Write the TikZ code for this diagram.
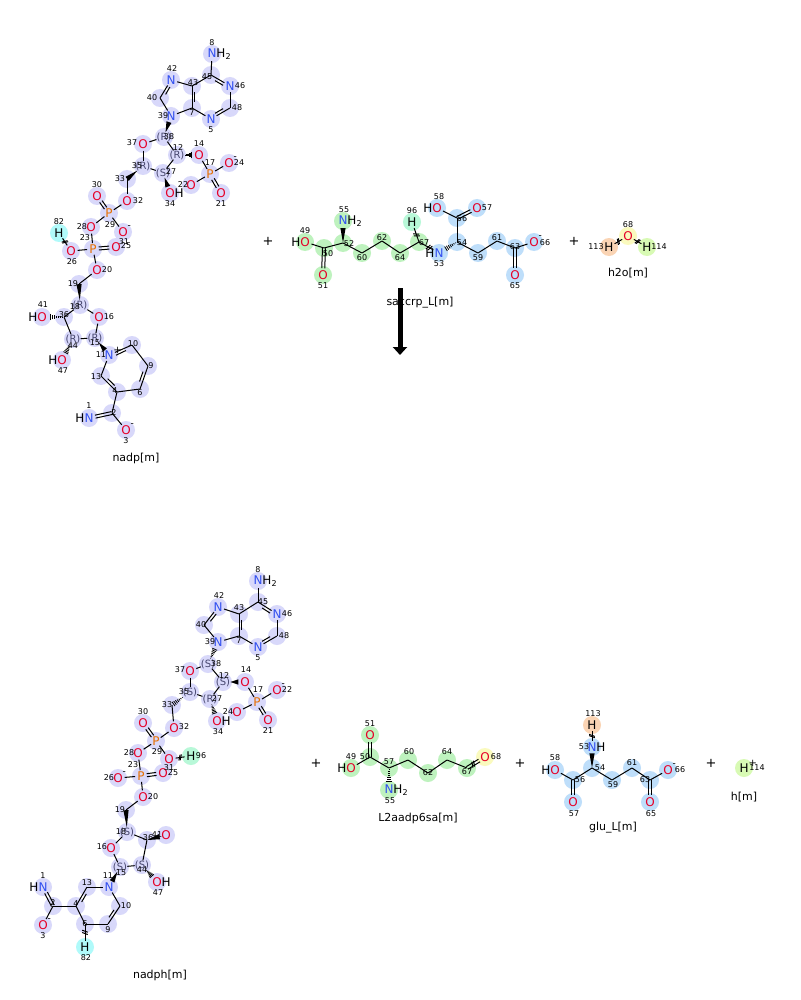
\documentclass[tikz,border=0pt]{standalone}
\usepackage{fontspec}
\setmainfont{DejaVu Sans}
\usetikzlibrary{calc, arrows.meta}
\pgfdeclarelayer{bg}
\pgfdeclarelayer{fg}
\pgfsetlayers{bg,main,fg}
\definecolor{lav}{RGB}{216,216,250}
\definecolor{grn}{RGB}{190,242,190}
\definecolor{blu}{RGB}{190,222,250}
\definecolor{cyn}{RGB}{176,250,250}
\definecolor{mnt}{RGB}{184,248,216}
\definecolor{org}{RGB}{250,212,180}
\definecolor{yel}{RGB}{250,250,190}
\definecolor{lim}{RGB}{216,250,180}
\definecolor{ored}{RGB}{230,0,40}
\definecolor{nblu}{RGB}{50,80,240}
\definecolor{porg}{RGB}{230,110,0}
\definecolor{stc}{RGB}{70,70,110}
\tikzstyle{atomtxt}=[circle,inner sep=0pt,minimum size=0pt,font=\fontsize{12}{12}\selectfont]
\tikzstyle{atomnum}=[inner sep=0pt,font=\fontsize{8}{8}\selectfont]
\tikzstyle{spclbl}=[inner sep=0pt,font=\fontsize{11}{11}\selectfont]
\tikzstyle{plussign}=[inner sep=0pt,font=\fontsize{13}{13}\selectfont]
\tikzstyle{bond}=[line width=1pt]
\newcommand{\Ox}{\textcolor{ored}{O}}
\newcommand{\Nx}{\textcolor{nblu}{N}}
\newcommand{\Px}{\textcolor{porg}{P}}
\newcommand{\chm}{\rlap{\smash{\raisebox{8pt}{\fontsize{9}{9}\selectfont -}}}}
\newcommand{\chp}{\rlap{\smash{\raisebox{6pt}{\fontsize{10}{10}\selectfont +}}}}
\newcommand{\st}[1]{{\fontsize{10}{10}\selectfont\textcolor{stc}{(#1)}}}
% atom: [highlight]{name}{x,y}{text}{number}{offset of number}
\newcommand{\atm}[6][lav]{%
  \begin{pgfonlayer}{bg}\fill[#1] (#3) circle (9);\end{pgfonlayer}
  \node[atomtxt] (#2) at (#3) {#4};
  \begin{pgfonlayer}{fg}\node[atomnum] (#2n) at ($(#3)+(#6)$) {#5};\end{pgfonlayer}}
\newcommand{\satm}[6][lav]{%
  \begin{pgfonlayer}{bg}\fill[#1] (#3) circle (9);\end{pgfonlayer}
  \node[atomtxt,rectangle] (#2) at (#3) {\st{#4}};
  \begin{pgfonlayer}{fg}\node[atomnum] (#2n) at ($(#3)+(#6)$) {#5};\end{pgfonlayer}}
% bonds
\newcommand{\dbl}[2]{%
  \path (#1) -- (#2) coordinate[pos=0] (qa) coordinate[pos=1] (qb);
  \draw[bond] ($(qa)!1.5pt!90:(qb)$) -- ($(qb)!1.5pt!-90:(qa)$);
  \draw[bond] ($(qa)!1.5pt!-90:(qb)$) -- ($(qb)!1.5pt!90:(qa)$);}
\newcommand{\ibd}[3]{%
  \draw[bond] (#1) -- (#2);
  \draw[bond] ($(#1)!0.25!(#2)!3pt!(#3)$) -- ($(#2)!0.25!(#1)!3pt!(#3)$);}
\newcommand{\wdg}[2]{%
  \path (#1) -- (#2) coordinate[pos=0] (qa) coordinate[pos=1] (qb);
  \fill (qa) -- ($(qb)!2.6pt!90:(qa)$) -- ($(qb)!2.6pt!-90:(qa)$) -- cycle;}
\newcommand{\hsh}[2]{%
  \path (#1) -- (#2) coordinate[pos=0] (qa) coordinate[pos=1] (qb);
  \foreach \k in {0.1,0.23,0.36,0.49,0.62,0.75,0.88}
    \draw[line width=0.8pt] ($(qa)!\k!(qb)!\k*3pt!90:(qb)$) -- ($(qa)!\k!(qb)!\k*3pt!-90:(qb)$);}
\newcommand{\xtk}[3][0.5]{%
  \path (#2) -- (#3) coordinate[pos=#1-0.07] (qm) coordinate[pos=#1+0.07] (qn) coordinate[pos=1] (qb);
  \draw[bond] ($(qm)!3pt!70:(qb)$) -- ($(qm)!3pt!-110:(qb)$);
  \draw[bond] ($(qn)!3pt!70:(qb)$) -- ($(qn)!3pt!-110:(qb)$);}
\newcommand{\xbd}[3][0.5]{\draw[bond] (#2) -- (#3); \xtk[#1]{#2}{#3}}

\begin{document}
\begin{tikzpicture}[x=1pt,y=-1pt]
  \begin{pgfonlayer}{bg}\fill[white] (0,0) rectangle (800,1000);\end{pgfonlayer}
  \useasboundingbox (0,0) rectangle (800,1000);

  % nadp[m]
  \atm{t8}{212,54}{\Nx\rlap{H\textsubscript{2}}}{8}{0,-11}
  \atm{t45}{211,75}{}{45}{-4,2}
  \atm{t46}{230,86}{\Nx}{46}{10,0}
  \atm{t48}{230,108}{}{48}{7,0}
  \atm{t5}{211,119}{\Nx}{5}{0,11}
  \atm{t7}{192,108}{}{7}{0,5}
  \atm{t43}{192,86}{}{43}{1,-3}
  \atm{t42}{171,80}{\Nx}{42}{1,-11}
  \atm{t40}{160,98}{}{40}{-8,0}
  \atm{t39}{171,116}{\Nx}{39}{-8,0}
  \satm{t38}{164,137}{R}{38}{5,0}
  \atm{t37}{143,144}{\Ox}{37}{-11,-1}
  \satm{t35}{143,166}{R}{35}{-6,0}
  \satm{t27}{163,173}{S}{27}{8,-1}
  \satm{t12}{177,155}{R}{12}{1,-7}
  \atm{t14}{199,155}{\Ox}{14}{0,-11}
  \atm{t17}{210,174}{\Px}{17}{0,-11}
  \atm{t24}{229,163}{\Ox\chm}{24}{10,0}
  \atm{t22}{191,185}{\Ox}{22}{-8,0}
  \atm{t21}{221,193}{\Ox}{21}{0,11}
  \atm{t34}{170,193}{\Ox\rlap{H}}{34}{0,11}
  \atm{t33}{127,179}{}{33}{-7,0}
  \atm{t32}{127,201}{\Ox}{32}{11,0}
  \atm{t29}{109,213}{\Px}{29}{1,12}
  \atm{t30}{97,196}{\Ox}{30}{0,-11}
  \atm{t31}{123,232}{\Ox\chm}{31}{1,10}
  \atm{t28}{91,227}{\Ox}{28}{-9,0}
  \atm[cyn]{t82}{59,233}{H}{82}{0,-11}
  \atm{t26}{71,251}{\Ox}{26}{1,11}
  \atm{t23}{93,249}{\Px}{23}{-8,-11}
  \atm{t25}{116,247}{\Ox}{25}{10,-1}
  \atm{t20}{97,270}{\Ox}{20}{10,0}
  \atm{t19}{79,284}{}{19}{-6,0}
  \satm{t18}{80,305}{R}{18}{-5,2}
  \atm{t16}{99,317}{\Ox}{16}{10,0}
  \satm{t15}{95,338}{R}{15}{0,5}
  \satm{t44}{73,339}{R}{44}{0,7}
  \atm{t36}{64,317}{}{36}{0,-2}
  \atm{t41}{42,317}{\llap{H}\Ox}{41}{1,-12}
  \atm{t47}{62,360}{\llap{H}\Ox}{47}{1,11}
  \atm{t11}{109,355}{\Nx\chp}{11}{-8,0}
  \atm{t10}{132,345}{}{10}{1,-1}
  \atm{t9}{148,366}{}{9}{3,0}
  \atm{t6}{140,389}{}{6}{0,4}
  \atm{t4}{117,392}{}{4}{-2,-1}
  \atm{t13}{101,376}{}{13}{-5,1}
  \atm{t2}{112,413}{}{2}{2,0}
  \atm{t1}{89,418}{\llap{H}\Nx}{1}{0,-12}
  \atm{t3}{126,430}{\Ox\chm}{3}{0,11}
  \coordinate (tcA) at (211,97);
  \coordinate (tcB) at (177,98);
  \coordinate (tcC) at (124,371);
  \foreach \a/\b in {t8/t45,t46/t48,t5/t7,t43/t45,t43/t42,t40/t39,t39/t7,
      t38/t37,t37/t35,t35/t27,t27/t12,t12/t38,t14/t17,t17/t24,t17/t22,
      t33/t32,t32/t29,t29/t31,t29/t28,t28/t23,t23/t26,t23/t20,t20/t19,
      t18/t16,t16/t15,t15/t44,t44/t36,t36/t18,t10/t9,t6/t4,t13/t11,t4/t2,t2/t3}
    \draw[bond] (\a) -- (\b);
  \ibd{t45}{t46}{tcA} \ibd{t48}{t5}{tcA} \ibd{t7}{t43}{tcA} \ibd{t42}{t40}{tcB}
  \ibd{t11}{t10}{tcC} \ibd{t9}{t6}{tcC} \ibd{t4}{t13}{tcC}
  \dbl{t17}{t21} \dbl{t29}{t30} \dbl{t23}{t25} \dbl{t2}{t1}
  \wdg{t38}{t39} \wdg{t27}{t34} \wdg{t35}{t33} \wdg{t18}{t19} \wdg{t15}{t11}
  \hsh{t12}{t14} \hsh{t36}{t41} \hsh{t44}{t47}
  \xbd{t82}{t26}
  \node[spclbl] (nadp) at (136,458) {nadp[m]};

  \node[plussign] (p1) at (268,241) {+};

  % saccrp_L[m]
  \atm[grn]{s49}{305,242}{\llap{H}\Ox}{49}{0,-11}
  \atm[grn]{s50}{324,248}{}{50}{4,6}
  \atm[grn]{s51}{323,275}{\Ox}{51}{0,11}
  \atm[grn]{s52}{343,243}{}{52}{6,1}
  \atm[grn]{s55}{343,221}{\Nx\rlap{H\textsubscript{2}}}{55}{1,-11}
  \atm[grn]{s60}{362,253}{}{60}{0,5}
  \atm[grn]{s62}{382,241}{}{62}{0,-3}
  \atm[grn]{s64}{400,253}{}{64}{0,5}
  \atm[grn]{s67}{419,242}{}{67}{5,1}
  \atm[mnt]{s96}{412,222}{H}{96}{0,-11}
  \atm[blu]{s53}{439,253}{\llap{H}\Nx}{53}{0,11}
  \atm[blu]{s54}{457,242}{}{54}{5,1}
  \atm[blu]{s56}{457,218}{}{56}{5,1}
  \atm[blu]{s58}{437,208}{\llap{H}\Ox}{58}{2,-11}
  \atm[blu]{s57}{477,208}{\Ox}{57}{10,0}
  \atm[blu]{s59}{478,253}{}{59}{0,5}
  \atm[blu]{s61}{497,241}{}{61}{0,-3}
  \atm[blu]{s63}{515,248}{}{63}{0,-1}
  \atm[blu]{s66}{534,242}{\Ox\chm}{66}{11,1}
  \atm[blu]{s65}{515,275}{\Ox}{65}{0,11}
  \foreach \a/\b in {s49/s50,s50/s52,s52/s60,s60/s62,s62/s64,s64/s67,
      s54/s56,s56/s58,s54/s59,s59/s61,s61/s63,s63/s66}
    \draw[bond] (\a) -- (\b);
  \dbl{s50}{s51} \dbl{s56}{s57} \dbl{s63}{s65}
  \wdg{s52}{s55} \hsh{s54}{s53}
  \xbd{s67}{s96} \xbd[0.7]{s67}{s53}
  \node[spclbl] (saccrp) at (420,303) {saccrp\_L[m]};

  \node[plussign] (p2) at (574,241) {+};

  % h2o[m]
  \atm[org]{w113}{609,247}{H}{113}{-13,0}
  \atm[yel]{w68}{628,236}{\Ox}{68}{0,-11}
  \atm[lim]{w114}{647,247}{H}{114}{12,0}
  \xbd{w113}{w68} \xbd{w68}{w114}
  \node[spclbl] (h2o) at (628,273) {h2o[m]};

  % reaction arrow
  \coordinate (arS) at (400,288);
  \coordinate (arE) at (400,355);
  \draw[line width=5pt, -{Triangle[width=14pt,length=8pt]}] (arS) -- (arE);

  % nadph[m]
  \atm{b8}{258,581}{\Nx\rlap{H\textsubscript{2}}}{8}{0,-11}
  \atm{b45}{258,602}{}{45}{5,0}
  \atm{b46}{277,614}{\Nx}{46}{10,0}
  \atm{b48}{277,636}{}{48}{7,0}
  \atm{b5}{258,647}{\Nx}{5}{0,11}
  \atm{b7}{239,636}{}{7}{0,5}
  \atm{b43}{239,614}{}{43}{0,-6}
  \atm{b42}{218,607}{\Nx}{42}{1,-11}
  \atm{b40}{204,625}{}{40}{-3,0}
  \atm{b39}{218,642}{\Nx}{39}{-8,0}
  \satm{b38}{208,664}{S}{38}{8,0}
  \atm{b37}{190,671}{\Ox}{37}{-10,-1}
  \satm{b35}{190,692}{S}{35}{-6,0}
  \satm{b27}{210,699}{R}{27}{7,0}
  \satm{b12}{223,682}{S}{12}{1,-6}
  \atm{b14}{245,682}{\Ox}{14}{1,-12}
  \atm{b17}{257,702}{\Px}{17}{1,-12}
  \atm{b22}{277,690}{\Ox\chm}{22}{10,0}
  \atm{b24}{237,712}{\Ox}{24}{-9,0}
  \atm{b21}{268,720}{\Ox}{21}{0,11}
  \atm{b34}{217,721}{\Ox\rlap{H}}{34}{1,11}
  \atm{b33}{172,705}{}{33}{-5,0}
  \atm{b32}{174,728}{\Ox}{32}{10,-1}
  \atm{b29}{156,741}{\Px}{29}{1,11}
  \atm{b30}{143,723}{\Ox}{30}{0,-11}
  \atm{b28}{138,753}{\Ox}{28}{-9,0}
  \atm{b31}{169,759}{\Ox}{31}{0,9}
  \atm[mnt]{b96}{191,756}{H}{96}{10,0}
  \atm{b23}{141,776}{\Px}{23}{-8,-11}
  \atm{b26}{118,778}{\Ox\chm}{26}{-9,0}
  \atm{b25}{163,773}{\Ox}{25}{10,0}
  \atm{b20}{143,797}{\Ox}{20}{10,0}
  \atm{b19}{126,810}{}{19}{-6,0}
  \satm{b18}{127,832}{S}{18}{-6,0}
  \atm{b36}{147,840}{}{36}{1,-2}
  \atm{b41}{166,835}{\Ox}{41}{-9,0}
  \atm{b16}{111,848}{\Ox}{16}{-9,-1}
  \satm{b15}{120,867}{S}{15}{1,6}
  \satm{b44}{142,865}{S}{44}{0,5}
  \atm{b47}{157,882}{\Ox\rlap{H}}{47}{1,11}
  \atm{b11}{109,887}{\Nx}{11}{-1,-11}
  \atm{b10}{120,906}{}{10}{6,0}
  \atm{b9}{108,924}{}{9}{0,6}
  \atm{b6}{85,924}{}{6}{0,0}
  \atm{b4}{76,906}{}{4}{0,-2}
  \atm{b13}{87,887}{}{13}{0,-4}
  \atm{b2}{53,906}{}{2}{0,-3}
  \atm{b1}{43,887}{\llap{H}\Nx}{1}{0,-11}
  \atm{b3}{43,925}{\Ox\chm}{3}{0,11}
  \atm[cyn]{b82}{85,947}{H}{82}{1,11}
  \coordinate (bcA) at (258,625);
  \coordinate (bcB) at (224,625);
  \coordinate (bcC) at (98,906);
  \foreach \a/\b in {b8/b45,b46/b48,b5/b7,b43/b45,b43/b42,b40/b39,b39/b7,
      b38/b37,b37/b35,b35/b27,b27/b12,b12/b38,b14/b17,b17/b22,b17/b24,
      b33/b32,b32/b29,b29/b28,b29/b31,b28/b23,b23/b26,b23/b20,b20/b19,
      b18/b16,b16/b15,b15/b44,b44/b36,b36/b18,b11/b10,b9/b6,b6/b4,b13/b11,b4/b2,b2/b3}
    \draw[bond] (\a) -- (\b);
  \ibd{b45}{b46}{bcA} \ibd{b48}{b5}{bcA} \ibd{b7}{b43}{bcA} \ibd{b42}{b40}{bcB}
  \ibd{b10}{b9}{bcC} \ibd{b4}{b13}{bcC}
  \dbl{b17}{b21} \dbl{b29}{b30} \dbl{b23}{b25} \dbl{b2}{b1}
  \wdg{b12}{b14} \wdg{b18}{b19} \wdg{b36}{b41} \wdg{b15}{b11}
  \hsh{b38}{b39} \hsh{b27}{b34} \hsh{b35}{b33} \hsh{b44}{b47}
  \xbd{b31}{b96} \xbd{b6}{b82}
  \node[spclbl] (nadph) at (160,975) {nadph[m]};

  \node[plussign] (p3) at (316,763) {+};

  % L2aadp6sa[m]
  \atm[grn]{l49}{351,768}{\llap{H}\Ox}{49}{0,-11}
  \atm[grn]{l50}{370,757}{}{50}{-5,0}
  \atm[grn]{l51}{370,735}{\Ox}{51}{0,-11}
  \atm[grn]{l57}{389,768}{}{57}{0,-6}
  \atm[grn]{l55}{389,790}{\Nx\rlap{H\textsubscript{2}}}{55}{1,11}
  \atm[grn]{l60}{408,760}{}{60}{1,-8}
  \atm[grn]{l62}{428,773}{}{62}{0,0}
  \atm[grn]{l64}{447,760}{}{64}{0,-8}
  \atm[grn]{l67}{467,768}{}{67}{0,4}
  \atm[yel]{l68}{485,757}{\Ox}{68}{11,0}
  \foreach \a/\b in {l49/l50,l50/l57,l57/l60,l60/l62,l62/l64,l64/l67}
    \draw[bond] (\a) -- (\b);
  \dbl{l50}{l51} \dbl{l67}{l68} \xtk{l67}{l68}
  \hsh{l57}{l55}
  \node[spclbl] (l2aadp) at (418,818) {L2aadp6sa[m]};

  \node[plussign] (p4) at (520,763) {+};

  % glu_L[m]
  \atm[org]{g113}{592,725}{H}{113}{1,-11}
  \atm[blu]{g53}{592,747}{\Nx\rlap{H}}{53}{-8,0}
  \atm[blu]{g54}{592,768}{}{54}{8,0}
  \atm[blu]{g56}{573,780}{}{56}{7,0}
  \atm[blu]{g58}{555,770}{\llap{H}\Ox}{58}{0,-12}
  \atm[blu]{g57}{573,802}{\Ox}{57}{1,12}
  \atm[blu]{g59}{612,780}{}{59}{1,5}
  \atm[blu]{g61}{632,768}{}{61}{0,-5}
  \atm[blu]{g63}{650,780}{}{63}{-5,0}
  \atm[blu]{g66}{668,770}{\Ox\chm}{66}{12,0}
  \atm[blu]{g65}{650,802}{\Ox}{65}{1,12}
  \foreach \a/\b in {g54/g56,g56/g58,g54/g59,g59/g61,g61/g63,g63/g66}
    \draw[bond] (\a) -- (\b);
  \dbl{g56}{g57} \dbl{g63}{g65}
  \wdg{g54}{g53}
  \xbd{g113}{g53}
  \node[spclbl] (glu) at (613,828) {glu\_L[m]};

  \node[plussign] (p5) at (711,763) {+};

  % h[m]
  \atm[lim]{h114}{744,768}{H\chp}{114}{13,0}
  \node[spclbl] (hm) at (744,797) {h[m]};
\end{tikzpicture}
\end{document}
